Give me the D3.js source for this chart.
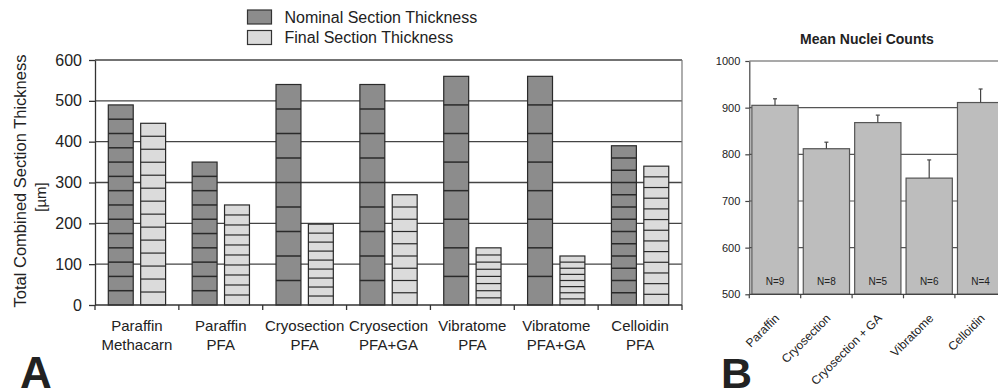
<!DOCTYPE html>
<html lang="en">
    <head>
        <meta charset="UTF-8">
        <script src="https://d3js.org/d3.v7.min.js"></script>
        <title>Section Thickness and Nuclei Counts</title>
        <style>
            body { margin: 0; background: #fff; }
            text { font-family: "Liberation Sans", Arial, sans-serif; fill: #222; }
        </style>
    </head>
    <body>
        <div id="container"></div>
    </body>
    <script>
        // panel A data
        const categoriesA = [
            ['Paraffin', 'Methacarn'],
            ['Paraffin', 'PFA'],
            ['Cryosection', 'PFA'],
            ['Cryosection', 'PFA+GA'],
            ['Vibratome', 'PFA'],
            ['Vibratome', 'PFA+GA'],
            ['Celloidin', 'PFA']
        ];
        const nominalTotal = [490, 350, 540, 540, 560, 560, 390];
        const finalTotal = [445, 245, 198, 270, 140, 120, 340];
        const sectionCount = [14, 10, 9, 9, 8, 8, 13];
        const seriesA = ['Nominal Section Thickness', 'Final Section Thickness'];
        const ticksA = [0, 100, 200, 300, 400, 500, 600];

        // panel B data
        const categoriesB = ['Paraffin', 'Cryosection', 'Cryosection + GA', 'Vibratome', 'Celloidin'];
        const meanCounts = [905, 812, 868, 749, 911];
        const countErr = [14, 14, 16, 39, 29];
        const nLabels = ['N=9', 'N=8', 'N=5', 'N=6', 'N=4'];
        const ticksB = [500, 600, 700, 800, 900, 1000];

        const width = 998;
        const height = 392;

        const svg = d3.select('#container')
            .append('svg')
            .attr('width', width)
            .attr('height', height);

        // ---------- panel A ----------
        const xA = d3.scaleBand()
            .domain(d3.range(categoriesA.length))
            .range([95, 682]);
        const subA = d3.scaleBand()
            .domain([0, 1])
            .range([13.3, 70.6])
            .paddingInner(0.23);
        const yA = d3.scaleLinear().domain([0, 600]).range([305, 60]);
        const fillA = ['#8c8c8c', '#dbdbdb'];

        const gA = svg.append('g');

        // grid
        gA.append('g')
            .selectAll('line')
            .data(ticksA.slice(1))
            .enter()
            .append('line')
            .attr('x1', 95).attr('x2', 682)
            .attr('y1', d => yA(d)).attr('y2', d => yA(d))
            .attr('stroke', '#444').attr('stroke-width', 1.3);
        gA.append('line')
            .attr('x1', 682).attr('x2', 682)
            .attr('y1', yA(600)).attr('y2', yA(0))
            .attr('stroke', '#777').attr('stroke-width', 1.2);

        const totals = [nominalTotal, finalTotal];
        seriesA.forEach(function(s, si) {
            const bars = gA.append('g')
                .selectAll('g')
                .data(totals[si].map((v, i) => ({i: i, v: v, n: sectionCount[i]})))
                .enter()
                .append('g')
                .attr('transform', d => `translate(${xA(d.i) + subA(si)},0)`);

            bars.append('rect')
                .attr('x', 0)
                .attr('width', subA.bandwidth())
                .attr('y', d => yA(d.v))
                .attr('height', d => yA(0) - yA(d.v))
                .attr('fill', fillA[si])
                .attr('stroke', '#2a2a2a')
                .attr('stroke-width', 1.2);

            // one stripe per section
            bars.selectAll('line')
                .data(d => d3.range(1, d.n).map(k => d.v * k / d.n))
                .enter()
                .append('line')
                .attr('x1', 0).attr('x2', subA.bandwidth())
                .attr('y1', d => yA(d)).attr('y2', d => yA(d))
                .attr('stroke', '#2a2a2a')
                .attr('stroke-width', si === 0 ? 1.5 : 1.2);
        });

        // axes A
        const axisLeftA = gA.append('g')
            .attr('transform', 'translate(95,0)')
            .call(d3.axisLeft(yA).tickValues(ticksA).tickSize(6).tickSizeOuter(0).tickPadding(7));
        axisLeftA.select('.domain').attr('stroke', '#333').attr('stroke-width', 1.3);
        axisLeftA.selectAll('.tick line').attr('stroke', '#333').attr('stroke-width', 1.3);
        axisLeftA.selectAll('.tick text')
            .style('font-size', '16px')
            .style('font-family', '"Liberation Sans", Arial, sans-serif')
            .attr('fill', '#222');

        const boundsA = d3.range(categoriesA.length + 1).map(i => 95 + i * xA.step());
        gA.append('line')
            .attr('x1', 95).attr('x2', 682)
            .attr('y1', yA(0)).attr('y2', yA(0))
            .attr('stroke', '#333').attr('stroke-width', 1.3);
        gA.append('g')
            .selectAll('line')
            .data(boundsA)
            .enter()
            .append('line')
            .attr('x1', d => d).attr('x2', d => d)
            .attr('y1', yA(0)).attr('y2', yA(0) + 5)
            .attr('stroke', '#333').attr('stroke-width', 1.3);

        const catText = gA.append('g')
            .selectAll('text')
            .data(categoriesA)
            .enter()
            .append('text')
            .attr('text-anchor', 'middle')
            .style('font-size', '15px');
        catText.append('tspan')
            .attr('x', (d, i) => xA(i) + xA.bandwidth() / 2)
            .attr('y', 330.5)
            .text(d => d[0]);
        catText.append('tspan')
            .attr('x', (d, i) => xA(i) + xA.bandwidth() / 2)
            .attr('y', 349.5)
            .text(d => d[1]);

        // y title A
        gA.append('text')
            .attr('transform', 'translate(26,181) rotate(-90)')
            .attr('text-anchor', 'middle')
            .style('font-size', '16.5px')
            .text('Total Combined Section Thickness');
        gA.append('text')
            .attr('transform', 'translate(46,197) rotate(-90)')
            .attr('text-anchor', 'middle')
            .style('font-size', '15px')
            .text('[µm]');

        // legend A
        const legend = gA.append('g')
            .selectAll('g')
            .data(seriesA)
            .enter()
            .append('g')
            .attr('transform', (d, i) => `translate(247.5,${10 + i * 20.5})`);
        legend.append('rect')
            .attr('width', 24).attr('height', 14)
            .attr('fill', (d, i) => fillA[i])
            .attr('stroke', '#333').attr('stroke-width', 1.2);
        legend.append('text')
            .attr('x', 37).attr('y', 12.6)
            .style('font-size', '16px')
            .text(d => d);

        svg.append('text')
            .attr('x', 20).attr('y', 388)
            .style('font-size', '44px')
            .style('font-weight', 'bold')
            .attr('fill', '#000')
            .text('A');

        // ---------- panel B ----------
        const xB = d3.scaleBand()
            .domain(categoriesB)
            .range([749.3, 1006.3])
            .paddingInner(0.1)
            .paddingOuter(0.05);
        const yB = d3.scaleLinear().domain([500, 1000]).range([294.3, 61]);

        const gB = svg.append('g');

        gB.append('text')
            .attr('x', 867).attr('y', 44)
            .attr('text-anchor', 'middle')
            .style('font-size', '14px')
            .style('font-weight', 'bold')
            .text('Mean Nuclei Counts');

        gB.append('g')
            .selectAll('line')
            .data(ticksB.slice(1))
            .enter()
            .append('line')
            .attr('x1', 749.3).attr('x2', 1006.3)
            .attr('y1', d => yB(d)).attr('y2', d => yB(d))
            .attr('stroke', '#555').attr('stroke-width', 1.2);

        gB.append('g')
            .selectAll('rect')
            .data(categoriesB)
            .enter()
            .append('rect')
            .attr('x', d => xB(d))
            .attr('width', xB.bandwidth())
            .attr('y', (d, i) => yB(meanCounts[i]))
            .attr('height', (d, i) => yB(500) - yB(meanCounts[i]))
            .attr('fill', '#bdbdbd')
            .attr('stroke', '#555')
            .attr('stroke-width', 1.2);

        const err = gB.append('g')
            .selectAll('g')
            .data(categoriesB)
            .enter()
            .append('g')
            .attr('transform', d => `translate(${xB(d) + xB.bandwidth() / 2},0)`);
        err.append('line')
            .attr('y1', (d, i) => yB(meanCounts[i]))
            .attr('y2', (d, i) => yB(meanCounts[i] + countErr[i]))
            .attr('stroke', '#444').attr('stroke-width', 1.2);
        err.append('line')
            .attr('x1', -2).attr('x2', 2)
            .attr('y1', (d, i) => yB(meanCounts[i] + countErr[i]))
            .attr('y2', (d, i) => yB(meanCounts[i] + countErr[i]))
            .attr('stroke', '#444').attr('stroke-width', 1.2);

        gB.append('g')
            .selectAll('text')
            .data(categoriesB)
            .enter()
            .append('text')
            .attr('x', d => xB(d) + xB.bandwidth() / 2)
            .attr('y', 285)
            .attr('text-anchor', 'middle')
            .style('font-size', '10px')
            .attr('fill', '#333')
            .text((d, i) => nLabels[i]);

        const axisLeftB = gB.append('g')
            .attr('transform', 'translate(749.3,0)')
            .call(d3.axisLeft(yB).tickValues(ticksB).tickFormat(d3.format('d'))
                .tickSize(4).tickSizeOuter(0).tickPadding(5));
        axisLeftB.select('.domain').attr('stroke', '#444').attr('stroke-width', 1.2);
        axisLeftB.selectAll('.tick line').attr('stroke', '#444').attr('stroke-width', 1.2);
        axisLeftB.selectAll('.tick text')
            .style('font-size', '11px')
            .style('font-family', '"Liberation Sans", Arial, sans-serif')
            .attr('fill', '#333');

        const boundsB = d3.range(categoriesB.length + 1).map(i => 749.3 + i * xB.step());
        gB.append('line')
            .attr('x1', 749.3).attr('x2', 1006.3)
            .attr('y1', yB(500)).attr('y2', yB(500))
            .attr('stroke', '#444').attr('stroke-width', 1.2);
        gB.append('g')
            .selectAll('line')
            .data(boundsB)
            .enter()
            .append('line')
            .attr('x1', d => d).attr('x2', d => d)
            .attr('y1', yB(500)).attr('y2', yB(500) + 4)
            .attr('stroke', '#444').attr('stroke-width', 1.2);

        gB.append('g')
            .selectAll('text')
            .data(categoriesB)
            .enter()
            .append('text')
            .attr('transform', d => `translate(${xB(d) + xB.bandwidth() / 2 - 1},${313}) rotate(-45)`)
            .attr('text-anchor', 'end')
            .attr('dy', '0.7em')
            .style('font-size', '12px')
            .attr('fill', '#333')
            .text(d => d);

        svg.append('text')
            .attr('x', 721).attr('y', 388)
            .style('font-size', '43px')
            .style('font-weight', 'bold')
            .attr('fill', '#000')
            .text('B');
    </script>
</html>
